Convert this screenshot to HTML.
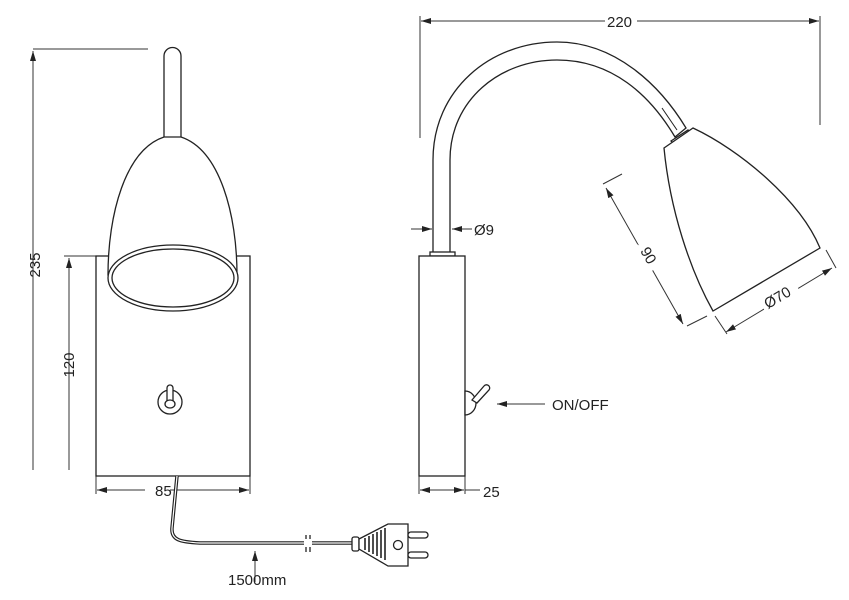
<!DOCTYPE html>
<html><head><meta charset="utf-8"><style>
html,body{margin:0;padding:0;background:#fff;}
svg{display:block;}
text{font-family:"Liberation Sans",sans-serif;font-size:15px;fill:#222;}
</style></head><body>
<svg width="849" height="600" viewBox="0 0 849 600" xmlns="http://www.w3.org/2000/svg">
<defs>
<marker id="a" viewBox="0 0 10 6" refX="10" refY="3" markerWidth="10" markerHeight="6" orient="auto-start-reverse" markerUnits="userSpaceOnUse"><path d="M0,0 L10,3 L0,6 z" fill="#222"/></marker>
</defs>
<g stroke="#333" fill="none" stroke-width="1">
<line x1="33" y1="49" x2="148" y2="49"/>
<line x1="33" y1="51" x2="33" y2="470" marker-start="url(#a)"/>
<line x1="64" y1="256" x2="96" y2="256"/>
<line x1="69" y1="258" x2="69" y2="470" marker-start="url(#a)"/>
<line x1="96" y1="476" x2="96" y2="494"/>
<line x1="250" y1="476" x2="250" y2="494"/>
<line x1="97" y1="490" x2="145" y2="490" marker-start="url(#a)"/>
<line x1="170" y1="490" x2="249" y2="490" marker-end="url(#a)"/>
</g>
<g stroke="#222" fill="#fff" stroke-width="1.3">
<rect x="96" y="256" width="154" height="220"/>
<path d="M164,137 L164,56 A8.5,8.5 0 0 1 181,56 L181,137"/>
<path d="M164,137 C125,150 108,215 108,275 L237,275 C237,215 220,150 181,137 Z"/>
<ellipse cx="173" cy="278" rx="65" ry="33"/>
<ellipse cx="173" cy="278" rx="61" ry="29"/>
<circle cx="170" cy="402" r="12"/>
<path d="M167,402 L167,388 A3,3 0 0 1 173,388 L173,402"/>
<ellipse cx="170" cy="404" rx="5" ry="4"/>
<path d="M177,476 L172,528 C171,540 180,542 200,543 L352,543" fill="none" stroke-width="3.5"/>
<path d="M177,476 L172,528 C171,540 180,542 200,543 L352,543" fill="none" stroke="#fff" stroke-width="1.2"/>
<line x1="306" y1="535" x2="306" y2="552"/>
<line x1="310" y1="535" x2="310" y2="552"/>
<rect x="304" y="539" width="8" height="8" fill="#fff" stroke="none"/>
<rect x="352" y="537" width="7" height="14" rx="2"/>
<path d="M359,539 L388,524 L408,524 L408,566 L388,566 L359,549 Z"/>
<path d="M365,538 L365,550 M369,536 L369,552 M373,534 L373,554 M377,532 L377,556 M381,530 L381,558 M385,528 L385,560" stroke-width="1.6"/>
<circle cx="398" cy="545" r="4.5"/>
<rect x="408" y="532" width="20" height="6" rx="3"/>
<rect x="408" y="552" width="20" height="6" rx="3"/>
</g>
<g stroke="#333" fill="none" stroke-width="1">
<line x1="255" y1="582" x2="255" y2="551" marker-end="url(#a)"/>
<line x1="420" y1="16" x2="420" y2="138"/>
<line x1="820" y1="16" x2="820" y2="125"/>
<line x1="421" y1="21" x2="605" y2="21" marker-start="url(#a)"/>
<line x1="637" y1="21" x2="819" y2="21" marker-end="url(#a)"/>
<line x1="411" y1="229" x2="432" y2="229" marker-end="url(#a)"/>
<line x1="472" y1="229" x2="452" y2="229" marker-end="url(#a)"/>
<line x1="419" y1="476" x2="419" y2="494"/>
<line x1="465" y1="476" x2="465" y2="494"/>
<line x1="420" y1="490" x2="464" y2="490" marker-start="url(#a)" marker-end="url(#a)"/>
<line x1="465" y1="490" x2="480" y2="490"/>
<line x1="545" y1="404" x2="497" y2="404" marker-end="url(#a)"/>
<line x1="603" y1="184" x2="622" y2="174"/>
<line x1="606" y1="188" x2="683" y2="324" marker-start="url(#a)" marker-end="url(#a)"/>
<line x1="687" y1="326" x2="707" y2="316"/>
<line x1="715" y1="316" x2="727" y2="334"/>
<line x1="826" y1="250" x2="836" y2="268"/>
<line x1="726" y1="332" x2="832" y2="268" marker-start="url(#a)" marker-end="url(#a)"/>
<rect x="760" y="284" width="40" height="26" fill="#fff" stroke="none" transform="rotate(-31 780 297)"/>
<rect x="628" y="240" width="22" height="36" fill="#fff" stroke="none" transform="rotate(-60 639 258)"/>
</g>
<g stroke="#222" fill="#fff" stroke-width="1.3">
<path d="M433,252 L433,160 C433,90 490,42 557,42 C615,42 660,85 686,128 L675,137 C650,95 612,60 557,60 C500,60 450,100 450,160 L450,252" fill="none"/>
<line x1="662" y1="108" x2="677" y2="130" stroke-width="1"/>
<rect x="430" y="252" width="25" height="4"/>
<rect x="419" y="256" width="46" height="220"/>
<path d="M465,391 A11,12 0 0 1 465,415 Z"/>
<path d="M472,400 L484,386 A3,3 0 0 1 489,390 L477,403 Z"/>
<path d="M671,141 L688,130 L693,135 L676,146 Z"/>
<path d="M664,148 L693,128 C740,150 800,200 820,248 L713,311 C690,270 670,210 664,148 Z"/>
</g>
<text x="40" y="265" text-anchor="middle" transform="rotate(-90 40 265)">235</text>
<text x="74" y="365" text-anchor="middle" transform="rotate(-90 74 365)">120</text>
<text x="155" y="496">85</text>
<text x="228" y="585">1500mm</text>
<text x="607" y="27">220</text>
<text x="474" y="235">Ø9</text>
<text x="483" y="497">25</text>
<text x="552" y="410">ON/OFF</text>
<text x="644" y="258" text-anchor="middle" transform="rotate(60 644 258)">90</text>
<text x="780" y="302" text-anchor="middle" transform="rotate(-31 780 302)">Ø70</text>
</svg>
</body></html>
